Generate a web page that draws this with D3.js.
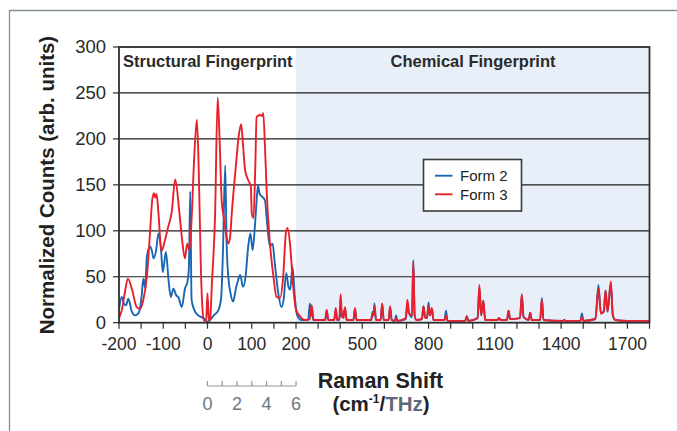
<!DOCTYPE html>
<html>
<head>
<meta charset="utf-8">
<script src="https://cdn.jsdelivr.net/npm/d3@7"></script>
<style>
  html, body { margin: 0; padding: 0; background: #ffffff; }
  svg { display: block; font-family: "Liberation Sans", Arial, Helvetica, sans-serif; }
</style>
</head>
<body>
<svg id="chart" width="677" height="431"></svg>
<script>
// ---------------- DATA ----------------
const yTicks = [0, 50, 100, 150, 200, 250, 300];
const xLabelTicks = [-200, -100, 0, 100, 200, 500, 800, 1100, 1400, 1700];
const xMinorTicksLeft = [-200, -150, -100, -50, 0, 50, 100, 150, 200];
const xMinorTicksRight = [300, 400, 500, 600, 700, 800, 900, 1000, 1100, 1200, 1300, 1400, 1500, 1600, 1700, 1800];
const thzTicks = [0, 1, 2, 3, 4, 5, 6];
const thzLabels = [0, 2, 4, 6];
const regionTitles = ["Structural Fingerprint", "Chemical Fingerprint"];
const seriesNames = ["Form 2", "Form 3"];
const seriesColors = ["#1a66b3", "#e8202c"];

// Form 2 (blue): [Raman shift cm-1, normalized counts]
const form2 = [
  [-200,14],[-194,28],[-189,21],[-184,19],[-179,26],[-171,12],[-164,8],[-156,10],[-149,28],[-145,48],
  [-141,38],[-137,72],[-130,83],[-126,79],[-122,70],[-116,79],[-111,97],[-105,79],[-101,55],[-94,77],
  [-88,46],[-83,28],[-77,37],[-71,30],[-66,28],[-58,17],[-51,37],[-45,45],[-42,61],[-39,143],
  [-36,25],[-30,14],[-21,8],[-9,5],[0,1],[14,8],[25,14],[31,28],[35,79],[40,171],
  [43,90],[47,50],[52,32],[58,23],[64,37],[69,46],[74,52],[80,39],[86,50],[92,83],
  [97,97],[102,79],[107,104],[111,133],[114,149],[118,140],[124,137],[130,133],[134,112],[141,83],
  [147,86],[152,65],[160,32],[167,17],[172,25],[178,54],[183,39],[187,36],[192,61],[198,25],
  [203,10],[213,5],[225,3],[255,3],[263,21],[268,8],[271,14],[278,3],
  [332,3],[339,13],[346,3],[373,3],[380,14],[386,3],[396,3],[402,18],[408,6],[422,15],[429,3],
  [460,3],[467,15],[474,3],[540,3],[547,12],[551,8],[555,21],[562,3],[583,3],[590,20],[597,3],
  [619,3],[626,16],[633,3],[647,2],[653,8],[659,2],[697,4],[704,20],[712,10],[725,6],[731,68],[737,8],[745,3],
  [770,4],[777,18],[784,6],[793,5],[800,22],[806,8],[815,15],[822,3],[872,3],[879,13],[886,2],
  [966,2],[973,7],[980,2],[1022,5],[1030,38],[1038,8],[1048,24],[1056,3],[1112,3],[1119,5],[1126,3],
  [1155,3],[1162,13],[1169,4],[1214,5],[1222,30],[1230,6],[1253,3],[1260,11],[1267,3],
  [1305,3],[1313,27],[1320,3],[1408,2],[1414,3],[1420,2],[1487,2],[1494,10],[1501,2],
  [1555,4],[1569,41],[1580,10],[1593,12],[1601,35],[1610,12],[1625,42],[1634,8],[1645,3],[1700,2],[1800,2]
];

// Form 3 (red)
const form3 = [
  [-200,5],[-193,15],[-186,35],[-180,48],[-171,37],[-160,17],[-152,15],[-145,25],[-137,50],[-130,97],
  [-125,133],[-121,141],[-118,136],[-115,140],[-111,120],[-104,78],[-96,90],[-89,104],[-81,120],[-73,156],
  [-64,122],[-58,93],[-51,70],[-46,86],[-41,79],[-36,112],[-30,180],[-24,221],[-20,170],[-15,60],
  [-12,20],[-8,2],[-3,3],[0,32],[3,2],[6,5],[10,43],[17,115],[23,245],[28,190],
  [32,133],[36,117],[42,97],[47,86],[51,93],[55,120],[64,170],[71,205],[76,216],[80,195],
  [85,166],[92,155],[98,148],[100,119],[104,114],[108,170],[111,224],[119,226],[123,225],[126,228],
  [130,190],[134,140],[141,87],[149,50],[156,28],[164,27],[171,50],[177,97],[181,103],[187,83],
  [193,43],[200,14],[218,7],[240,3],[262,4],[271,19],[280,3],
  [332,3],[339,14],[346,3],[373,3],[380,16],[386,3],[396,4],[402,31],[408,8],[415,5],[422,17],[429,3],
  [460,3],[467,16],[474,3],[540,3],[547,10],[551,8],[555,18],[562,3],[583,3],[590,21],[597,3],
  [619,3],[626,18],[633,3],[647,2],[653,5],[659,2],[697,5],[704,25],[712,10],[725,8],[731,66],[737,8],[745,3],
  [770,4],[777,18],[784,6],[793,5],[800,18],[806,8],[815,16],[822,3],[872,3],[879,8],[886,2],
  [966,2],[973,7],[980,2],[1022,5],[1030,41],[1038,8],[1048,24],[1056,3],[1112,3],[1119,5],[1126,3],
  [1155,3],[1162,13],[1169,4],[1214,5],[1222,31],[1230,6],[1253,3],[1260,11],[1267,3],
  [1305,3],[1313,25],[1320,3],[1408,2],[1414,3],[1420,2],[1487,2],[1494,6],[1501,2],
  [1555,4],[1569,37],[1580,10],[1593,12],[1601,35],[1610,12],[1625,45],[1634,8],[1645,3],[1700,2],[1800,2]
];

const CM_PER_THZ = 33.356;

// ---------------- LAYOUT ----------------
const svg = d3.select("#chart");
const L = 119, R = 649.5, T = 47, B = 322.7;
const x = d3.scaleLinear().domain([-200, 200, 1800]).range([L, 296, R]);
const y = d3.scaleLinear().domain([0, 300]).range([B, T]);

// outer border (top and left edges visible)
svg.append("path")
  .attr("d", `M9.5,431 L9.5,10.5 L677,10.5`)
  .attr("fill", "none").attr("stroke", "#84908e").attr("stroke-width", 1.3);

// chemical region shading
svg.append("rect")
  .attr("x", x(200)).attr("y", T)
  .attr("width", x(1800) - x(200)).attr("height", B - T)
  .attr("fill", "#e8eff8");

// gridlines
svg.append("g").selectAll("line")
  .data(yTicks.filter(d => d > 0 && d < 300))
  .join("line")
  .attr("x1", L).attr("x2", R)
  .attr("y1", d => y(d)).attr("y2", d => y(d))
  .attr("stroke", "#1c1c1c").attr("stroke-width", 1.2);

// region titles
svg.append("text").attr("x", L + 4).attr("y", 66.5)
  .attr("font-size", 16.5).attr("font-weight", "bold").attr("fill", "#2a2a2a")
  .text(regionTitles[0]);
svg.append("text").attr("x", 473).attr("y", 66.5).attr("text-anchor", "middle")
  .attr("font-size", 16.5).attr("font-weight", "bold").attr("fill", "#2a2a2a")
  .text(regionTitles[1]);

// series lines
const clip = svg.append("clipPath").attr("id", "clip")
  .append("rect").attr("x", L).attr("y", T - 5).attr("width", R - L).attr("height", B - T + 5);
const line = d3.line().x(d => x(d[0])).y(d => y(d[1])).curve(d3.curveMonotoneX);
const gLines = svg.append("g").attr("clip-path", "url(#clip)");
[form2, form3].forEach((s, i) => {
  gLines.append("path").datum(s)
    .attr("d", line)
    .attr("fill", "none")
    .attr("stroke", seriesColors[i])
    .attr("stroke-width", 1.9)
    .attr("stroke-linejoin", "round");
});

// frame
svg.append("rect").attr("x", L).attr("y", T).attr("width", R - L).attr("height", B - T)
  .attr("fill", "none").attr("stroke", "#2e2e2e").attr("stroke-width", 1.8);

// y axis ticks + labels
const gy = svg.append("g");
gy.selectAll("line").data(yTicks).join("line")
  .attr("x1", L - 6).attr("x2", L).attr("y1", d => y(d)).attr("y2", d => y(d))
  .attr("stroke", "#2e2e2e").attr("stroke-width", 1.2);
gy.selectAll("text").data(yTicks).join("text")
  .attr("x", 106).attr("y", d => y(d)).attr("dy", "0.35em")
  .attr("text-anchor", "end").attr("font-size", 18.5).attr("fill", "#2a2a2a")
  .text(d => d);

// x axis ticks + labels
const gx = svg.append("g");
gx.selectAll("line").data(xMinorTicksLeft.concat(xMinorTicksRight)).join("line")
  .attr("x1", d => x(d)).attr("x2", d => x(d)).attr("y1", B).attr("y2", B + 6)
  .attr("stroke", "#2e2e2e").attr("stroke-width", 1.2);
gx.selectAll("text").data(xLabelTicks).join("text")
  .attr("x", d => x(d)).attr("y", 349.5)
  .attr("text-anchor", "middle").attr("font-size", 17.5).attr("fill", "#2a2a2a")
  .text(d => d);

// THz secondary axis
const gt = svg.append("g");
const thzY = 386;
gt.append("line").attr("x1", x(0)).attr("x2", x(6 * CM_PER_THZ))
  .attr("y1", thzY).attr("y2", thzY).attr("stroke", "#8f989f").attr("stroke-width", 1.2);
gt.selectAll("line.t").data(thzTicks).join("line").attr("class", "t")
  .attr("x1", d => x(d * CM_PER_THZ)).attr("x2", d => x(d * CM_PER_THZ))
  .attr("y1", thzY).attr("y2", thzY - 5)
  .attr("stroke", "#8f989f").attr("stroke-width", 1.2);
gt.selectAll("text").data(thzLabels).join("text")
  .attr("x", d => x(d * CM_PER_THZ)).attr("y", 410)
  .attr("text-anchor", "middle").attr("font-size", 18).attr("fill", "#6c7782")
  .text(d => d);

// x axis title
svg.append("text").attr("x", 380.5).attr("y", 387.5)
  .attr("text-anchor", "middle").attr("font-size", 21.5).attr("font-weight", "bold").attr("fill", "#222")
  .text("Raman Shift");
const t2 = svg.append("text").attr("x", 381).attr("y", 411)
  .attr("text-anchor", "middle").attr("font-size", 20.5).attr("font-weight", "bold").attr("fill", "#222");
t2.append("tspan").text("(cm");
t2.append("tspan").attr("font-size", 12).attr("dy", -8).text("-1");
t2.append("tspan").attr("dy", 8).text("/");
t2.append("tspan").attr("fill", "#5d6b78").text("THz");
t2.append("tspan").text(")");

// y axis title
svg.append("text")
  .attr("transform", "translate(54,185) rotate(-90)")
  .attr("text-anchor", "middle").attr("font-size", 20.5).attr("font-weight", "bold").attr("fill", "#222")
  .text("Normalized Counts (arb. units)");

// legend
const lg = svg.append("g");
lg.append("rect").attr("x", 423.5).attr("y", 159.5).attr("width", 98).attr("height", 51.5)
  .attr("fill", "#ffffff").attr("stroke", "#3a3a3a").attr("stroke-width", 1.6);
seriesNames.forEach((n, i) => {
  const yy = 175.7 + i * 18.6;
  lg.append("line").attr("x1", 435).attr("x2", 452.5).attr("y1", yy).attr("y2", yy)
    .attr("stroke", seriesColors[i]).attr("stroke-width", 1.9);
  lg.append("text").attr("x", 460).attr("y", yy).attr("dy", "0.36em")
    .attr("font-size", 15).attr("fill", "#222").text(n);
});
</script>
</body>
</html>
